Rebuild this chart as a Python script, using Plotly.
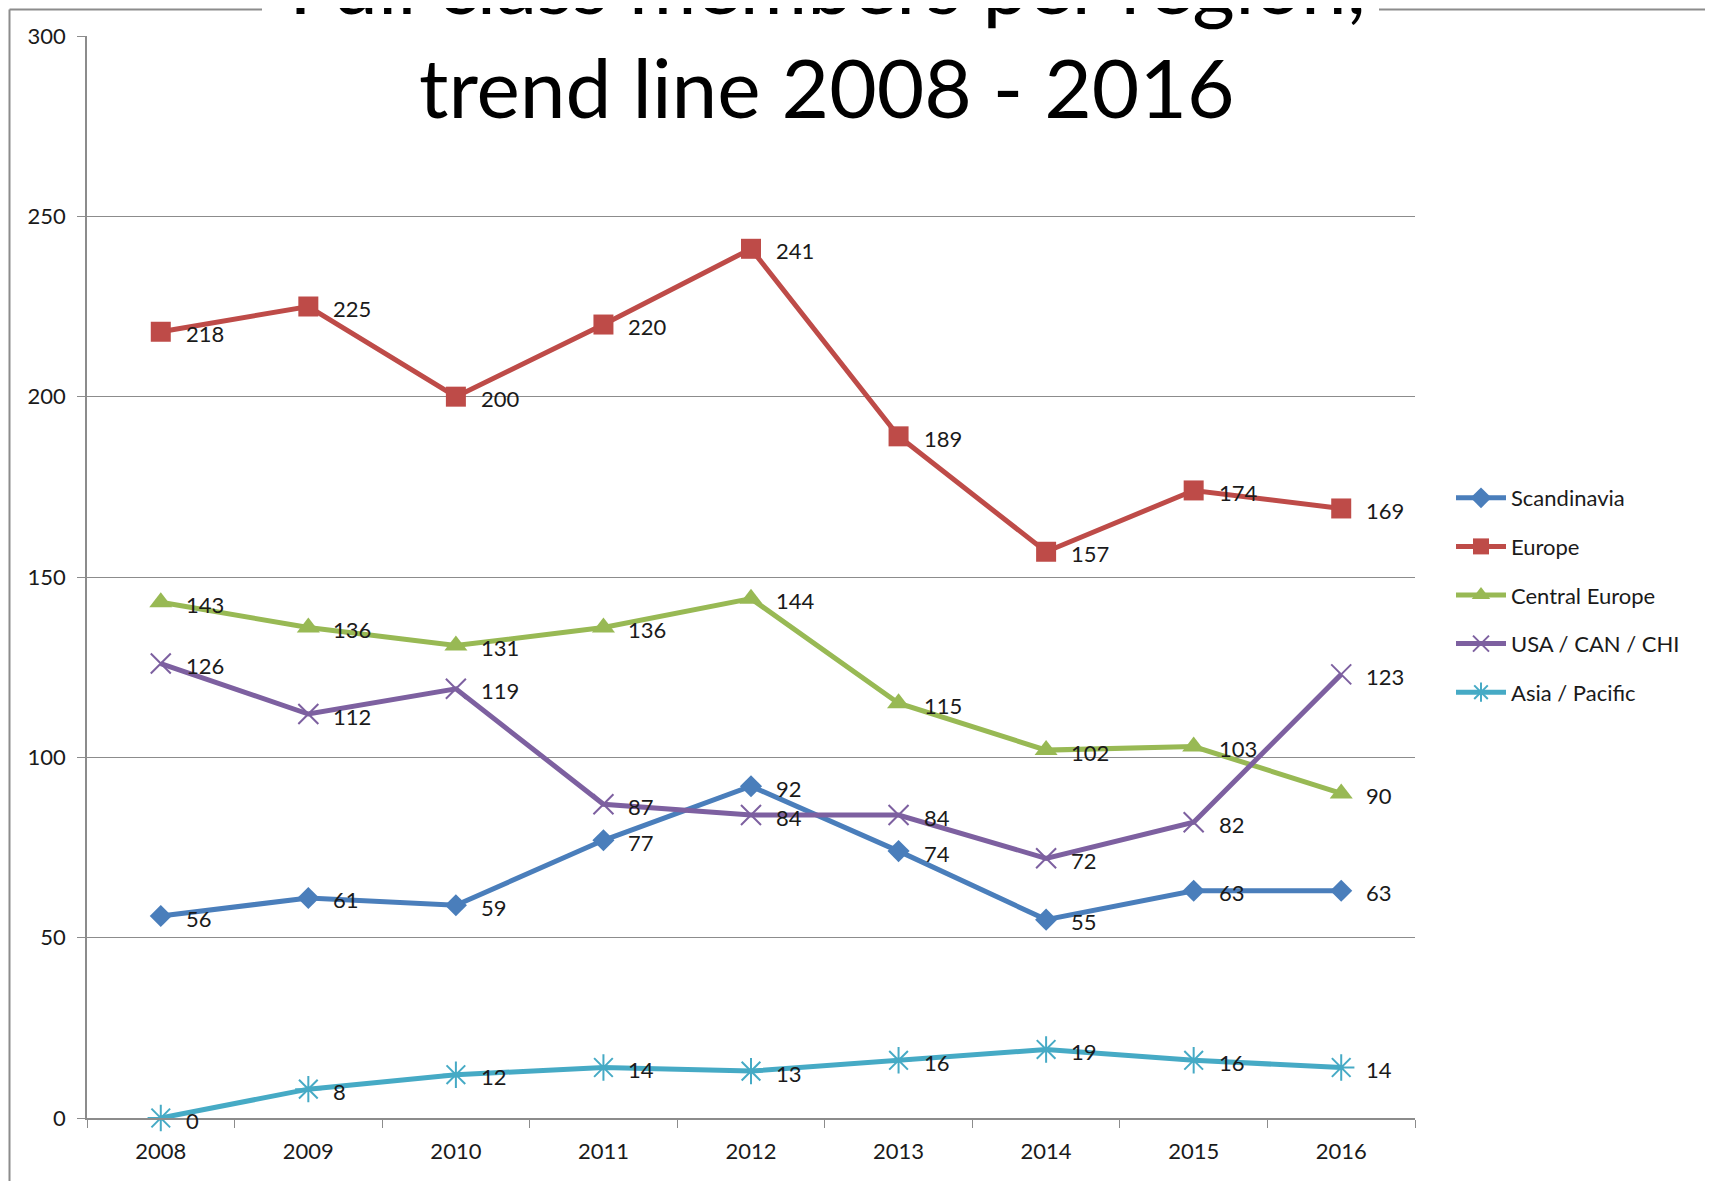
import plotly.graph_objects as go

years = ["2008", "2009", "2010", "2011", "2012", "2013", "2014", "2015", "2016"]
scandinavia = [56, 61, 59, 77, 92, 74, 55, 63, 63]
europe = [218, 225, 200, 220, 241, 189, 157, 174, 169]
central_europe = [143, 136, 131, 136, 144, 115, 102, 103, 90]
usa_can_chi = [126, 112, 119, 87, 84, 84, 72, 82, 123]
asia_pacific = [0, 8, 12, 14, 13, 16, 19, 16, 14]

series = [
    ("Scandinavia", scandinavia, "#4A7EBB", "diamond", 17, 0),
    ("Europe", europe, "#BE4B48", "square", 20, 0),
    ("Central Europe", central_europe, "#98B954", "triangle-up", 20, 0),
    ("USA / CAN / CHI", usa_can_chi, "#7D60A0", "x-thin-open", 20, 2),
    ("Asia / Pacific", asia_pacific, "#46AAC5", "asterisk-open", 22, 2),
]

OFF = 8  # body margin of the page
W, H = 1713 - OFF, 1181 - OFF
L, R, T, B = 79, 298, 28, 63
pw, ph = W - L - R, H - T - B

def px_x(x):  # page px -> paper
    return (x - OFF - L) / pw

def px_y(y):
    return (H - B - (y - OFF)) / ph

FONT = "Lato"
TXT = "#1a1a1a"

fig = go.Figure()
for name, vals, color, sym, size, lw in series:
    fig.add_trace(go.Scatter(
        x=years, y=vals, name=name, legendgroup=name,
        mode="lines+markers",
        line=dict(color=color, width=5),
        marker=dict(symbol=sym, size=size, color=color,
                    line=dict(color=color, width=lw)),
        cliponaxis=False,
    ))

grid = "#8c8c8c"
fig.update_layout(
    width=W, height=H,
    margin=dict(l=L, r=R, t=T, b=B),
    paper_bgcolor="white", plot_bgcolor="white",
    font=dict(family=FONT, size=22, color=TXT),
    showlegend=True,
    legend=dict(x=px_x(1451), y=px_y(477), xanchor="left", yanchor="top",
                font=dict(family=FONT, size=22, color=TXT),
                itemwidth=50,
                tracegroupgap=17, bgcolor="rgba(0,0,0,0)"),
    xaxis=dict(type="category", range=[-0.5, 8.5], tickson="boundaries",
               ticks="outside", ticklen=8, tickcolor=grid,
               showline=True, linecolor=grid, linewidth=1.5,
               ticklabelstandoff=13,
               showgrid=False, tickfont=dict(family=FONT, size=22)),
    yaxis=dict(range=[0, 300], dtick=50, ticks="outside", ticklen=8,
               tickcolor=grid, showline=True, linecolor=grid, linewidth=1.5,
               ticklabelstandoff=7,
               showgrid=True, gridcolor=grid, gridwidth=1, zeroline=False,
               tickfont=dict(family=FONT, size=22)),
)

for name, vals, color, sym, size, lw in series:
    for i, yv in enumerate(vals):
        fig.add_annotation(x=i, y=yv, xref="x", yref="y", text=str(yv), showarrow=False,
                           xanchor="left", yanchor="middle", xshift=23, yshift=-2,
                           font=dict(family=FONT, size=22, color=TXT))

# chart frame (partially hidden behind title)
frame = dict(color="#8c8c8c", width=2)
fig.add_shape(type="line", xref="paper", yref="paper",
              x0=px_x(9.5), x1=px_x(9.5), y0=px_y(9.5), y1=px_y(1200), line=frame)
fig.add_shape(type="line", xref="paper", yref="paper",
              x0=px_x(9.5), x1=px_x(262), y0=px_y(9.5), y1=px_y(9.5), line=frame)
fig.add_shape(type="line", xref="paper", yref="paper",
              x0=px_x(1379), x1=px_x(1720), y0=px_y(9.5), y1=px_y(9.5), line=frame)

fig.add_annotation(text="Full class members per region,", xref="paper", yref="paper",
                   x=px_x(827), y=px_y(-18), xanchor="center", yanchor="middle",
                   showarrow=False, font=dict(family=FONT, size=82, color="black"))
fig.add_annotation(text="trend line 2008 - 2016", xref="paper", yref="paper",
                   x=px_x(827), y=px_y(86), xanchor="center", yanchor="middle",
                   showarrow=False, font=dict(family=FONT, size=82, color="black"))

fig.write_html("out.html")
